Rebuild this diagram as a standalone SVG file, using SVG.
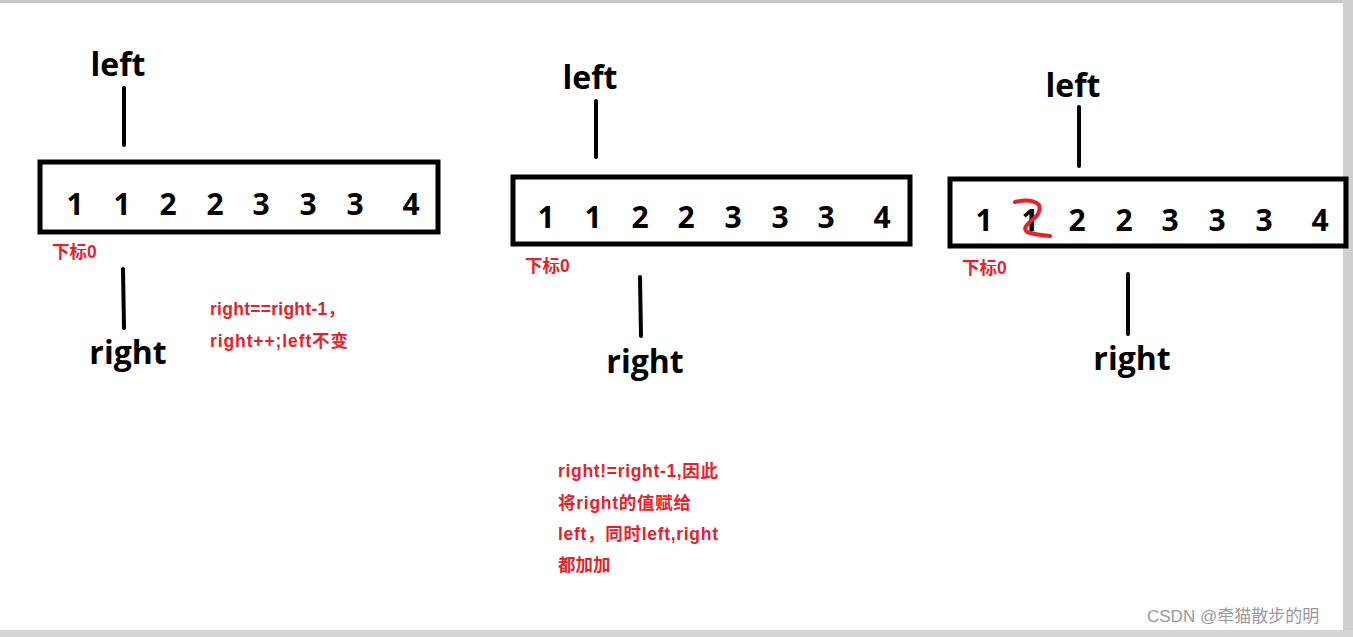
<svg xmlns="http://www.w3.org/2000/svg" width="1353" height="637" viewBox="0 0 1353 637">
<style>
.n{font-family:"Open Sans","Liberation Sans",sans-serif;font-weight:bold;font-size:30px;fill:#000;text-anchor:middle}
.lb{font-family:"Open Sans","Liberation Sans",sans-serif;font-weight:bold;font-size:32px;fill:#000;text-anchor:middle}
.r{font-family:"Liberation Sans","Noto Sans CJK SC",sans-serif;font-weight:bold;font-size:17.5px;fill:#e8202a}
.box{fill:none;stroke:#000;stroke-width:5}
.ln{stroke:#000;stroke-width:4;stroke-linecap:round}
</style>
<rect width="1353" height="637" fill="#fff"/>
<rect x="0" y="0" width="1353" height="3" fill="#c8c8c8"/>
<rect x="1343" y="0" width="10" height="637" fill="#cfcfcf"/>
<rect x="0" y="630" width="1353" height="7" fill="#d6d6d6"/>
<g id="panel1">
<rect class="box" x="40" y="162" width="398" height="70"/>
<g class="n"><text x="75" y="215">1</text><text x="122" y="215">1</text><text x="168" y="215">2</text><text x="215" y="215">2</text><text x="261" y="215">3</text><text x="308" y="215">3</text><text x="355" y="215">3</text><text x="411" y="215">4</text></g>
<text class="lb" x="118" y="76">left</text>
<text class="lb" x="128" y="364">right</text>
<text class="r" x="52" y="258">下标0</text>
<text class="r" x="210" y="315" textLength="135">right==right-1，</text>
<text class="r" x="210" y="347" textLength="138">right++;left不变</text>
</g>
<g id="panel2">
<rect class="box" x="513" y="177" width="397" height="67"/>
<g class="n"><text x="546" y="228">1</text><text x="593" y="228">1</text><text x="640" y="228">2</text><text x="686" y="228">2</text><text x="733" y="228">3</text><text x="780" y="228">3</text><text x="826" y="228">3</text><text x="882" y="228">4</text></g>
<text class="lb" x="590" y="89">left</text>
<text class="lb" x="645" y="373">right</text>
<text class="r" x="525" y="272">下标0</text>
<text class="r" x="558" y="477" textLength="160">right!=right-1,因此</text>
<text class="r" x="558" y="509" textLength="133">将right的值赋给</text>
<text class="r" x="558" y="540" textLength="160">left，同时left,right</text>
<text class="r" x="558" y="571">都加加</text>
</g>
<g id="panel3">
<rect class="box" x="950" y="179" width="396" height="67"/>
<g class="n"><text x="984" y="231">1</text><text x="1030" y="231">1</text><text x="1077" y="231">2</text><text x="1124" y="231">2</text><text x="1170" y="231">3</text><text x="1217" y="231">3</text><text x="1264" y="231">3</text><text x="1320" y="231">4</text></g>
<path d="M1015 202 Q1032 198 1039 205 Q1042 213 1031 221 Q1022 228 1027 232 Q1037 235 1050 236" fill="none" stroke="#e8202a" stroke-width="4" stroke-linecap="round"/>
<text class="lb" x="1073" y="97">left</text>
<text class="lb" x="1132" y="370">right</text>
<text class="r" x="962" y="274">下标0</text>
</g>
<g id="connectors">
<line class="ln" x1="124" y1="88" x2="124" y2="145"/>
<line class="ln" x1="123" y1="269" x2="124" y2="328"/>
<line class="ln" x1="596" y1="101" x2="596" y2="157"/>
<line class="ln" x1="640" y1="277" x2="641" y2="336"/>
<line class="ln" x1="1079" y1="107" x2="1079" y2="166"/>
<line class="ln" x1="1128" y1="274" x2="1128" y2="334"/>
</g>
<text x="1147" y="622" font-family="Liberation Sans,Noto Sans CJK SC,sans-serif" font-size="17" fill="#999">CSDN @牵猫散步的明</text>
</svg>
